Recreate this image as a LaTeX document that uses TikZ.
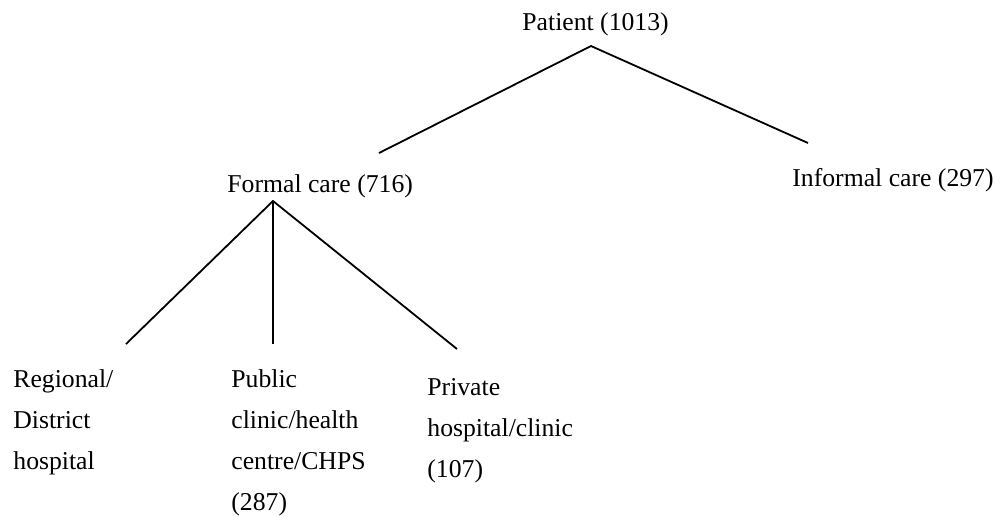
\documentclass[tikz,border=0pt]{standalone}
\usepackage{fontspec}
\setmainfont{Liberation Serif}
\usetikzlibrary{positioning}

\begin{document}
\begin{tikzpicture}[
		x=0.5pt, y=-0.5pt,
		careitem/.style={anchor=base west, inner sep=0pt, align=left, font=\fontsize{12.85}{20.5}\selectfont},
		subitem/.style={careitem, text width=90pt},
		branch/.style={draw, line width=0.9pt}
		]
		\useasboundingbox (0,0) rectangle (1001,516);
		
		\node[careitem] (patient) at (522,30) {Patient (1013)};
		\node[careitem] (formal) at (227,192) {Formal care (716)};
		\node[careitem] (informal) at (792,186) {Informal care (297)};
		
		\node[subitem] (regional) at (13,387) {Regional/\\District\\hospital};
		\node[subitem] (public) at (231,387) {Public\\clinic/health\\centre/CHPS\\(287)};
		\node[subitem] (private) at (427,395) {Private\\hospital/clinic\\(107)};
		
		% ends of the branches
		\coordinate (patientfoot) at (591,46);
		\coordinate (formalhead) at (379,153);
		\coordinate (informalhead) at (808,143);
		\coordinate (formalfoot) at (273,201);
		\coordinate (regionalhead) at (126,344);
		\coordinate (publichead) at (273,344);
		\coordinate (privatehead) at (457,349);
		
		\draw[branch] (formalhead) -- (patientfoot) -- (informalhead);
		\draw[branch] (regionalhead) -- (formalfoot) -- (privatehead);
		\draw[branch] (formalfoot) -- (publichead);
	\end{tikzpicture}
\end{document}
